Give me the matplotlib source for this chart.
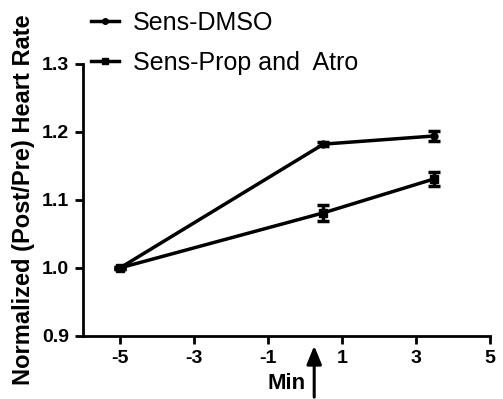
import matplotlib
matplotlib.use("Agg")
import matplotlib.pyplot as plt
from matplotlib.lines import Line2D

plt.rcParams['font.family'] = ['Liberation Sans', 'DejaVu Sans']
plt.rcParams['axes.unicode_minus'] = False

time_min = [-5, 0.5, 3.5]
dmso = [1.0, 1.182, 1.194]
dmso_err = [0.002, 0.003, 0.007]
prop_atro = [1.0, 1.081, 1.131]
prop_atro_err = [0.002, 0.012, 0.010]
x_ticks = [-5, -3, -1, 1, 3, 5]
y_ticks = [0.9, 1.0, 1.1, 1.2, 1.3]
arrow_x = 0.25

fig = plt.figure(figsize=(5.03, 3.99), dpi=100)
ax = fig.add_axes([0.165, 0.158, 0.809, 0.682])

ax.errorbar(time_min, dmso, yerr=dmso_err, color='black', lw=2.5,
            marker='o', ms=5, capsize=4, capthick=2.5, elinewidth=2.5)
ax.errorbar(time_min, prop_atro, yerr=prop_atro_err, color='black', lw=2.5,
            marker='s', ms=6, capsize=4, capthick=2.5, elinewidth=2.5)

h1 = Line2D([], [], color='black', lw=2.5, marker='o', ms=4, label='Sens-DMSO')
h2 = Line2D([], [], color='black', lw=2.5, marker='s', ms=5, label='Sens-Prop and  Atro')

ax.set_xlim(-6, 5)
ax.set_ylim(0.9, 1.3)
ax.set_xticks(x_ticks)
ax.set_yticks(y_ticks)
ax.set_yticklabels([f"{v:.1f}" for v in y_ticks])
for sp in ['top', 'right']:
    ax.spines[sp].set_visible(False)
for sp in ['left', 'bottom']:
    ax.spines[sp].set_linewidth(2)
ax.tick_params(axis='both', direction='out', length=6, width=2, labelsize=14, pad=4)
for lab in ax.get_xticklabels() + ax.get_yticklabels():
    lab.set_fontweight('bold')

ax.set_ylabel('Normalized (Post/Pre) Heart Rate', fontsize=17, fontweight='bold', labelpad=5)

ax.annotate('', xy=(arrow_x, -0.026), xycoords=('data', 'axes fraction'),
            xytext=(arrow_x, -0.235), textcoords=('data', 'axes fraction'),
            arrowprops=dict(arrowstyle='-|>,head_length=1.1,head_width=0.45',
                            color='black', lw=2.2), annotation_clip=False)
ax.text(-0.49, -0.173, 'Min', transform=ax.get_xaxis_transform(),
        fontsize=16, fontweight='bold', ha='center', va='center')

fig.legend(handles=[h1, h2], loc='upper left', bbox_to_anchor=(0.162, 0.998),
           frameon=False, fontsize=18, handlelength=1.1, handletextpad=0.55,
           labelspacing=0.65, borderaxespad=0)

fig.savefig('out.png', dpi=100)
